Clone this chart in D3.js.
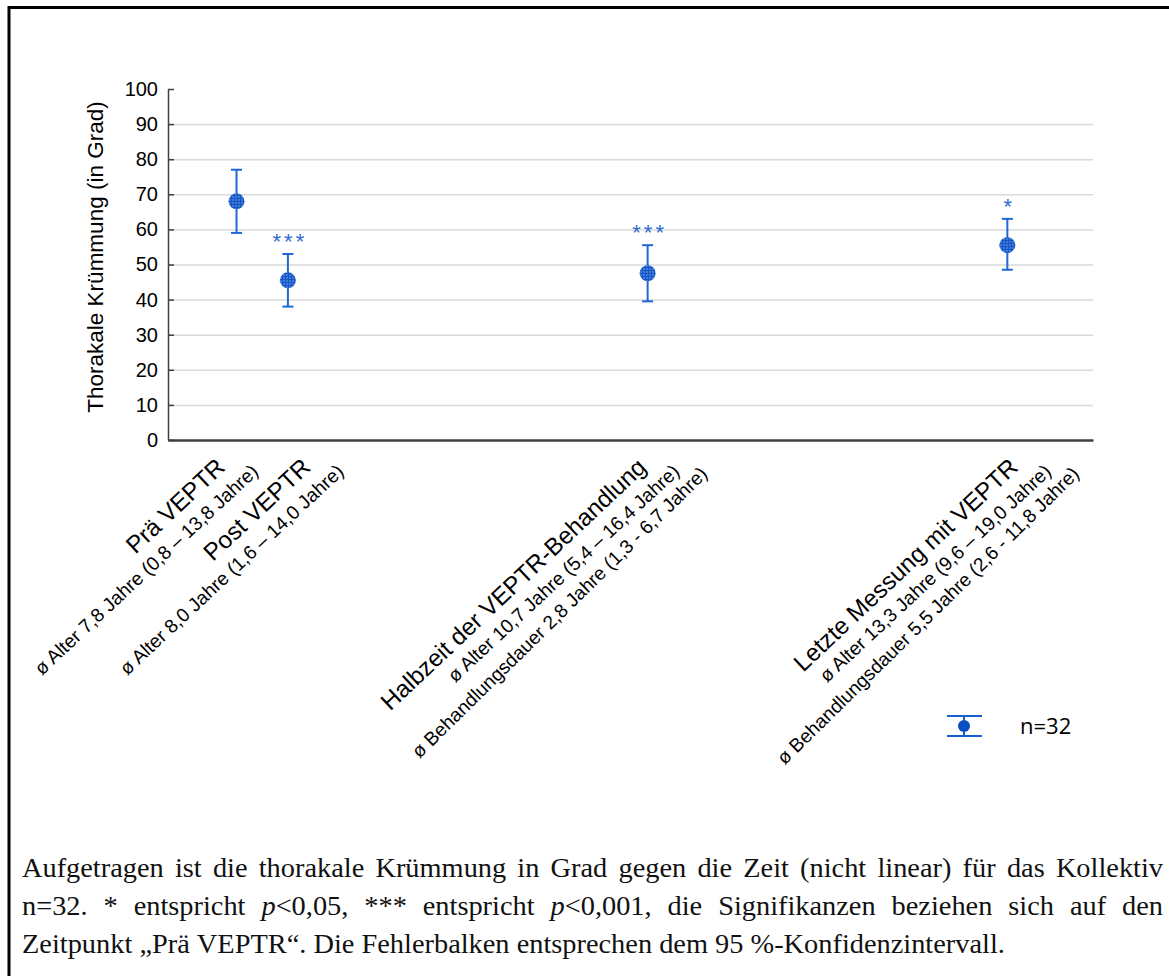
<!DOCTYPE html>
<html lang="de">
<head>
    <meta charset="UTF-8">
    <title>Thorakale Krümmung</title>
    <script src="https://d3js.org/d3.v7.min.js"></script>
    <style>
        body { margin: 0; background: #fff; }
        svg { display: block; }
    </style>
</head>
<body>
    <script>
        // Data
        const categories = ["Prä VEPTR", "Post VEPTR", "Halbzeit der VEPTR-Behandlung", "Letzte Messung mit VEPTR"];
        const subLabels = [
            ["ø Alter 7,8 Jahre (0,8 – 13,8 Jahre)"],
            ["ø Alter 8,0 Jahre (1,6 – 14,0 Jahre)"],
            ["ø Alter 10,7 Jahre (5,4 – 16,4 Jahre)", "ø Behandlungsdauer 2,8 Jahre (1,3 - 6,7 Jahre)"],
            ["ø Alter 13,3 Jahre (9,6 – 19,0 Jahre)", "ø Behandlungsdauer 5,5 Jahre (2,6 - 11,8 Jahre)"]
        ];
        const timeSlot = [1, 1.75, 7, 12.25];      // nicht-lineare Zeitachse
        const meanValues = [68, 45.5, 47.5, 55.5];
        const ciLower = [59, 38, 39.5, 48.5];
        const ciUpper = [77, 53, 55.5, 63];
        const significance = ["", "***", "***", "*"];
        const yTicks = [0, 10, 20, 30, 40, 50, 60, 70, 80, 90, 100];
        const legendLabel = "n=32";

        const w = 1169;
        const h = 976;
        const plotL = 168, plotR = 1093, plotT = 89, plotB = 440;
        const blue = "#1f66d6";

        const svg = d3.select("body").append("svg")
            .attr("width", w)
            .attr("height", h)
            .style("font-family", "'Liberation Sans', Arial, sans-serif");

        // frame (top + left edge of the figure box)
        svg.append("path")
            .attr("d", `M9,${h} L9,7.5 L${w},7.5`)
            .attr("fill", "none")
            .attr("stroke", "#000")
            .attr("stroke-width", 3);

        // grid pattern for the markers
        const defs = svg.append("defs");
        const pat = defs.append("pattern")
            .attr("id", "grid")
            .attr("width", 3).attr("height", 3)
            .attr("patternUnits", "userSpaceOnUse");
        pat.append("rect").attr("width", 3).attr("height", 3).attr("fill", "#3f7ad8");
        pat.append("path").attr("d", "M0,0.5 H3 M0.5,0 V3").attr("stroke", "#1656c6").attr("stroke-width", 1);

        const xScale = d3.scaleLinear().domain([0, 13.5]).range([plotL, plotR]);
        const yScale = d3.scaleLinear().domain([0, 100]).range([plotB, plotT]);

        // gridlines
        svg.append("g")
            .attr("transform", `translate(${plotL},0)`)
            .call(d3.axisLeft(yScale).tickValues(yTicks.filter(t => t > 0 && t < 100))
                .tickSize(-(plotR - plotL)).tickFormat(""))
            .call(g => g.select(".domain").remove())
            .call(g => g.selectAll("line").attr("stroke", "#d9d9d9").attr("stroke-width", 1.5));

        // y axis
        svg.append("g")
            .attr("transform", `translate(${plotL},0)`)
            .call(d3.axisLeft(yScale).tickValues(yTicks).tickSizeInner(-6).tickSizeOuter(0).tickPadding(10))
            .call(g => g.select(".domain").attr("stroke", "#404040").attr("stroke-width", 1.5))
            .call(g => g.selectAll("line").attr("stroke", "#404040").attr("stroke-width", 1.5))
            .call(g => g.selectAll("text")
                .style("font-family", "'Liberation Sans', Arial, sans-serif")
                .style("font-size", "20px")
                .attr("fill", "#000"));

        // x axis (line only)
        svg.append("g")
            .attr("transform", `translate(0,${plotB})`)
            .call(d3.axisBottom(xScale).tickValues([]).tickSizeOuter(0))
            .call(g => g.select(".domain").attr("stroke", "#404040").attr("stroke-width", 2.5));

        // y axis title
        svg.append("text")
            .attr("transform", `translate(103, 257) rotate(-90)`)
            .attr("text-anchor", "middle")
            .style("font-size", "22.5px")
            .text("Thorakale Krümmung (in Grad)");

        // error bars
        const idx = d3.range(categories.length);
        const bars = svg.append("g").selectAll("g").data(idx).enter().append("g");
        bars.append("line")
            .attr("x1", i => xScale(timeSlot[i])).attr("x2", i => xScale(timeSlot[i]))
            .attr("y1", i => yScale(ciLower[i])).attr("y2", i => yScale(ciUpper[i]))
            .attr("stroke", blue).attr("stroke-width", 2);
        [ciLower, ciUpper].forEach(arr => {
            bars.append("line")
                .attr("x1", i => xScale(timeSlot[i]) - 5.5).attr("x2", i => xScale(timeSlot[i]) + 5.5)
                .attr("y1", i => yScale(arr[i])).attr("y2", i => yScale(arr[i]))
                .attr("stroke", blue).attr("stroke-width", 2);
        });
        bars.append("circle")
            .attr("cx", i => xScale(timeSlot[i]))
            .attr("cy", i => yScale(meanValues[i]))
            .attr("r", 8)
            .attr("fill", "url(#grid)");

        // significance stars
        bars.append("text")
            .attr("x", i => xScale(timeSlot[i]) + 2)
            .attr("y", i => yScale(ciUpper[i]) - 5)
            .attr("text-anchor", "middle")
            .attr("fill", "#2e6bd0")
            .style("font-size", "22px")
            .style("letter-spacing", "3px")
            .text(i => significance[i]);

        // category labels, rotated (hand-placed text boxes in the original)
        const labelNudge = [-10, 24, 0, 12];
        const subAngle = [-43, -44.5];
        idx.forEach(i => {
            const x0 = xScale(timeSlot[i]) + labelNudge[i];
            const y0 = 469;
            svg.append("text")
                .attr("transform", `translate(${x0},${y0}) rotate(-43.3)`)
                .attr("text-anchor", "end")
                .style("font-size", "24.2px")
                .text(categories[i]);
            subLabels[i].forEach((s, j) => {
                const sx = x0 + 33 + j * 28;
                const sy = y0 + 4 + j * 2;
                svg.append("text")
                    .attr("transform", `translate(${sx},${sy}) rotate(${subAngle[j]})`)
                    .attr("text-anchor", "end")
                    .style("font-size", "19.2px")
                    .text(s);
            });
        });

        // legend
        const lg = svg.append("g").attr("transform", "translate(964,726)");
        lg.append("line").attr("x1", -17).attr("x2", 18).attr("y1", -10).attr("y2", -10).attr("stroke", "#1560d0").attr("stroke-width", 2);
        lg.append("line").attr("x1", -17).attr("x2", 18).attr("y1", 10).attr("y2", 10).attr("stroke", "#1560d0").attr("stroke-width", 2);
        lg.append("line").attr("x1", 0).attr("x2", 0).attr("y1", -10).attr("y2", 10).attr("stroke", "#1560d0").attr("stroke-width", 2);
        lg.append("circle").attr("r", 6).attr("fill", "#0a4fc6");
        lg.append("text")
            .attr("x", 56).attr("y", 8)
            .style("font-family", "'Open Sans', sans-serif")
            .style("font-size", "22px")
            .text(legendLabel);

        // caption (justified serif text)
        const captionLines = [
            { justify: true, words: "Aufgetragen ist die thorakale Krümmung in Grad gegen die Zeit (nicht linear) für das Kollektiv".split(" ").map(t => [[t, false]]) },
            { justify: true, words: [
                [["n=32.", false]], [["*", false]], [["entspricht", false]], [["p", true], ["<0,05,", false]],
                [["***", false]], [["entspricht", false]], [["p", true], ["<0,001,", false]],
                ...("die Signifikanzen beziehen sich auf den".split(" ").map(t => [[t, false]]))
            ] },
            { justify: false, words: "Zeitpunkt „Prä VEPTR“. Die Fehlerbalken entsprechen dem 95 %-Konfidenzintervall.".split(" ").map(t => [[t, false]]) }
        ];
        const capLeft = 22, capRight = 1163, lastLineEnd = 1005;
        const baselines = [877, 915, 953];
        const cap = svg.append("g")
            .style("font-family", "'Liberation Serif', 'DejaVu Serif', serif")
            .attr("fill", "#111");

        // fit font size so that the last (unjustified) line ends where it does in the figure
        const probe = cap.append("text").style("font-size", "20px").text(captionLines[2].words.map(wd => wd[0][0]).join(" "));
        const capSize = 20 * (lastLineEnd - capLeft) / probe.node().getComputedTextLength();
        probe.remove();
        cap.style("font-size", capSize + "px");

        captionLines.forEach((line, li) => {
            const nodes = line.words.map(segs => {
                const t = cap.append("text").attr("y", baselines[li]);
                segs.forEach(([s, it]) => t.append("tspan").style("font-style", it ? "italic" : "normal").text(s));
                return t;
            });
            const widths = nodes.map(n => n.node().getComputedTextLength());
            const total = d3.sum(widths);
            const space = capSize * 0.25;
            const gap = line.justify ? (capRight - capLeft - total) / (nodes.length - 1) : space;
            let x = capLeft;
            nodes.forEach((n, k) => {
                n.attr("x", x);
                x += widths[k] + gap;
            });
        });
    </script>
</body>
</html>
